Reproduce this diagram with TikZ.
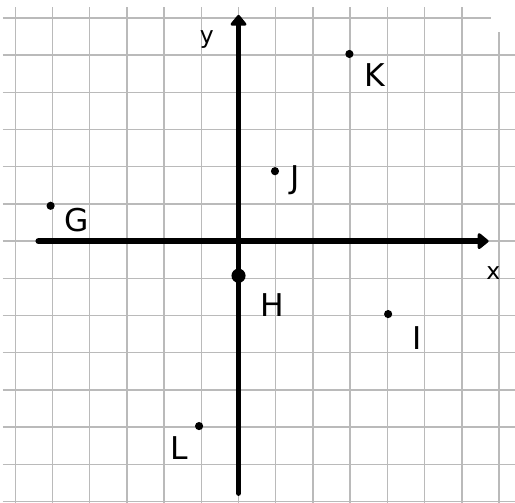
\documentclass[tikz,border=0pt]{standalone}
\usepackage{fontspec}
\setmainfont{DejaVu Sans}
\usetikzlibrary{arrows.meta}
\tikzset{
    gridline/.style={
        draw=black!27,
        line width=1.1pt
    },
    axis/.style={
        draw=black,
        line width=4.4pt,
        line cap=round,
        -{Triangle[round,length=9pt,width=14pt]}
    },
    dot/.style={
        circle,
        fill=black,
        inner sep=0pt,
        minimum size=0.22cm
    },
    ptlabel/.style={
        font=\fontsize{24}{24}\selectfont
    },
    axlabel/.style={
        font=\fontsize{18}{18}\selectfont
    }
}

\begin{document}
\begin{tikzpicture}
            \useasboundingbox (-6.41,-7.02) rectangle (7.43,6.48);
            \fill [white] (-6.41,-7.02) rectangle (7.43,6.48);

            % Grid
            \foreach \gx in {-6,...,6} {
                \draw [gridline] (\gx,-7.05) -- (\gx,6.29);
            }
            \draw [gridline] (7,-7.05) -- (7,5.62);
            \foreach \gy in {-7,...,5} {
                \draw [gridline] (-6.33,\gy) -- (7.45,\gy);
            }
            \draw [gridline] (-6.33,6) -- (6.79,6);

            % Axes
            \coordinate (xstart) at (-5.38,0);
            \coordinate (xend) at (6.72,0);
            \coordinate (ystart) at (0,-6.77);
            \coordinate (yend) at (0,6.08);
            \draw [axis] (xstart) -- (xend);
            \draw [axis] (ystart) -- (yend);
            \node (xlbl) [axlabel] at (6.85,-0.86) {x};
            \node (ylbl) [axlabel] at (-0.85,5.42) {y};

            % Points
            \node (ptG) [dot] at (-5.05,0.95) {};
            \node (ptH) [dot, minimum size=0.38cm] at (0,-0.93) {};
            \node (ptI) [dot] at (4.02,-1.96) {};
            \node (ptJ) [dot] at (0.98,1.88) {};
            \node (ptK) [dot] at (2.98,5.03) {};
            \node (ptL) [dot] at (-1.06,-4.97) {};

            % Labels
            \node (lblG) [ptlabel] at (-4.34,0.56) {G};
            \node (lblH) [ptlabel] at (0.91,-1.72) {H};
            \node (lblI) [ptlabel] at (4.8,-2.61) {I};
            \node (lblJ) [ptlabel] at (1.52,1.64) {J};
            \node (lblK) [ptlabel] at (3.66,4.46) {K};
            \node (lblL) [ptlabel] at (-1.6,-5.56) {L};
\end{tikzpicture}
\end{document}
